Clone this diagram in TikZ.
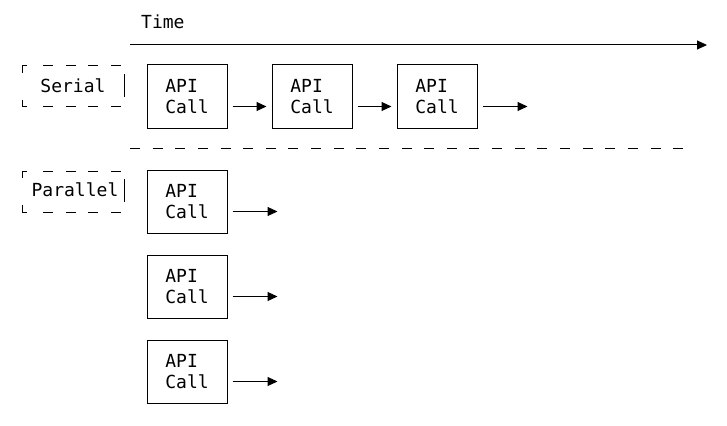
\documentclass[tikz,border=0pt]{standalone}
\usepackage{fontspec}
\setmonofont{DejaVu Sans Mono}
\usetikzlibrary{arrows.meta,positioning}

\tikzset{
  mono/.style={font=\ttfamily\fontsize{18}{21}\selectfont},
  apibox/.style={mono,draw,line width=1pt,minimum width=80pt,minimum height=63pt,align=left,inner sep=0pt},
  flow/.style={line width=1pt,-{Triangle[length=10pt,width=9pt]}},
  frame/.style={line width=1pt},
  dashline/.style={line width=1pt,dash pattern=on 10pt off 12.63pt},
}

\begin{document}
\begin{tikzpicture}[x=1pt,y=-1pt]
    \useasboundingbox (0,0) rectangle (727,425);

      % time axis
      \node[mono,anchor=west,inner sep=0pt] (time) at (141,22) {Time};
      \coordinate (t0) at (130,45);
      \coordinate (t1) at (707,45);
      \draw[flow] (t0) -- (t1);

      % serial row
      \node[mono,inner sep=0pt] (serial) at (73,86) {Serial};
      \draw[frame] (22,73) -- (22,66) -- (27,66);
      \draw[dashline] (43,66) -- (122,66);
      \draw[frame] (22,100) -- (22,107) -- (27,107);
      \draw[dashline] (43,107) -- (122,107);
      \draw[frame] (124,74) -- (124,97);

      \node[apibox] (s1) at (187,96.5) {API\\Call};
      \node[apibox,right=44pt of s1] (s2) {API\\Call};
      \node[apibox,right=44pt of s2] (s3) {API\\Call};
      \coordinate (s3out) at ([xshift=50pt,yshift=-10pt]s3.east);
      \draw[flow] ([xshift=5pt,yshift=-10pt]s1.east) -- ([xshift=-5pt,yshift=-10pt]s2.west);
      \draw[flow] ([xshift=5pt,yshift=-10pt]s2.east) -- ([xshift=-5pt,yshift=-10pt]s3.west);
      \draw[flow] ([xshift=5pt,yshift=-10pt]s3.east) -- (s3out);

      % separator
      \draw[dashline] (130,148) -- (683,148);

      % parallel rows
    \def\shiftY{105}
      \node[mono,inner sep=0pt] (parallel) at (75,190) {Parallel};
      \draw[frame] (22,73+\shiftY) -- (22,66+\shiftY) -- (27,66+\shiftY);
      \draw[dashline] (43,66+\shiftY) -- (122,66+\shiftY);
      \draw[frame] (22,100+\shiftY) -- (22,107+\shiftY) -- (27,107+\shiftY);
      \draw[dashline] (43,107+\shiftY) -- (122,107+\shiftY);
      \draw[frame] (124,74+\shiftY) -- (124,97+\shiftY);

      \node[apibox] (p1) at (187,201.5) {API\\Call};
      \node[apibox,below=21pt of p1] (p2) {API\\Call};
      \node[apibox,below=21pt of p2] (p3) {API\\Call};
      \coordinate (p1out) at ([xshift=50pt,yshift=-10pt]p1.east);
      \coordinate (p2out) at ([xshift=50pt,yshift=-10pt]p2.east);
      \coordinate (p3out) at ([xshift=50pt,yshift=-10pt]p3.east);
      \draw[flow] ([xshift=5pt,yshift=-10pt]p1.east) -- (p1out);
      \draw[flow] ([xshift=5pt,yshift=-10pt]p2.east) -- (p2out);
      \draw[flow] ([xshift=5pt,yshift=-10pt]p3.east) -- (p3out);

\end{tikzpicture}
\end{document}
